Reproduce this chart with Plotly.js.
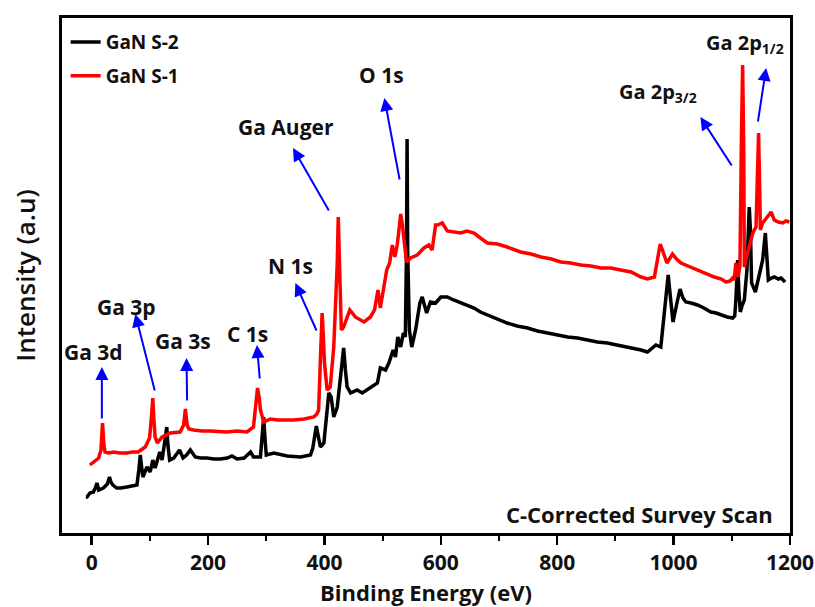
<!DOCTYPE html>
<html>
<head>
<meta charset="utf-8">
<script src="https://cdn.plot.ly/plotly-3.0.1.min.js"></script>
<style>
  html, body { margin: 0; padding: 0; background: #fff; }
  #chart { width: 815px; height: 607px; }
</style>
</head>
<body>
<div id="chart"></div>
<script>
// XPS survey spectra of two GaN samples (binding energy in eV, intensity in a.u.)
const energyS1 = [-3, 3, 12, 16, 18.6, 21, 23, 29, 37.5, 48, 60, 70, 80, 92, 99.5, 103, 105, 107, 109, 113,
  121, 135, 152, 158, 161, 164, 167, 175, 190, 204, 220, 232, 250, 267, 278, 282, 285, 288, 290, 295.6,
  307, 320, 347, 365, 381.6, 387, 390, 393, 396, 398, 400, 404.6, 410, 416, 420, 422, 423.7, 426, 429, 433,
  443.6, 448, 453, 468, 479, 486, 492, 496, 502, 507, 512, 516.5, 521, 525, 528, 531, 534, 536.5, 541, 548,
  559.5, 571, 579.5, 585, 591, 594, 602.5, 611, 622, 634, 645, 657, 668, 680, 697, 714, 737, 755, 772, 790,
  806, 823, 840.5, 858, 875, 892, 909, 927, 944, 955, 967, 972, 977, 982, 988.5, 998, 1005, 1012.6, 1025, 1041,
  1055, 1070, 1082, 1090, 1097, 1101.5, 1104, 1107, 1111, 1114, 1116.5, 1118.6, 1120.5, 1121.5, 1127, 1136, 1141.6, 1144, 1146, 1148,
  1149, 1153, 1161.7, 1167.5, 1173, 1180, 1187.6, 1193, 1199];
const intensityS1 = [68, 71, 75, 83, 110, 88, 81, 80, 81, 80, 80, 81, 81, 86, 95, 118, 135, 113, 96, 90,
  96, 100, 101, 108, 124, 108, 104, 103, 102, 102, 101, 101, 102, 101, 106, 128, 145, 135, 123, 111,
  114, 113, 113, 114, 116, 119, 123, 173, 220, 198, 170, 143, 146, 186, 243, 270, 316, 270, 203, 206,
  223, 220, 216, 211, 216, 223, 243, 225, 246, 263, 270, 288, 276, 288, 303, 319, 308, 293, 271, 275,
  278, 285, 288, 283, 308, 308, 310, 302, 301, 300, 302, 300, 295, 290, 289, 286, 281, 279, 276, 274,
  271, 270, 268, 267, 265, 265, 263, 261, 256, 254, 256, 271, 289, 281, 270, 279, 274, 270, 267, 263,
  259, 256, 254, 251, 252, 255, 253, 270, 256, 268, 393, 468, 383, 266, 280, 300, 306, 353, 400, 343,
  303, 310, 316, 321, 313, 311, 310, 312, 311];

const energyS2 = [-10, -8, -3, 3, 7, 9, 12, 20, 27, 30.6, 33, 36.5, 43, 50, 60.5, 70, 77.8, 81, 83.5, 86,
  88, 95, 100.6, 105, 109, 117, 121, 126, 129, 131, 134, 141, 151, 157, 163, 169.5, 178, 187, 198, 210,
  221, 233, 241, 250, 262, 273, 278, 290, 293, 295.6, 298, 300, 313, 336, 359, 376, 380, 383, 386, 389,
  393, 399, 404, 407.5, 411.6, 416, 422, 427.6, 433, 436, 439, 445, 456, 465, 479, 491, 496, 505, 510.7, 518,
  522, 526, 531, 535.5, 539, 541, 542, 543, 546, 550, 556.6, 564, 568, 572, 575.6, 582, 591, 600, 605, 611,
  622, 634, 645, 657, 668, 680, 697, 714, 731, 749, 766, 783, 800, 818, 835, 852, 869, 886, 903, 921,
  935, 944, 955, 961, 969.6, 978, 984, 990.7, 995, 999, 1005, 1011, 1016, 1021, 1030, 1041, 1052, 1064, 1073, 1081,
  1092, 1101.5, 1105, 1107, 1110, 1112, 1114.6, 1118, 1121.5, 1126, 1130, 1132, 1134, 1140.5, 1145, 1149, 1153, 1157.6, 1160, 1162.8,
  1168, 1173, 1180, 1184.6, 1191.6];
const intensityS2 = [36, 36, 40, 41, 46, 50, 43, 45, 49, 56, 51, 48, 45, 45, 46, 47, 48, 63, 78, 65,
  56, 66, 61, 73, 65, 81, 73, 93, 106, 88, 73, 75, 83, 75, 78, 83, 76, 75, 75, 74,
  74, 75, 77, 74, 75, 81, 76, 76, 93, 116, 93, 78, 80, 77, 76, 78, 85, 96, 107, 98,
  86, 90, 123, 140, 136, 116, 126, 160, 185, 163, 146, 140, 143, 140, 145, 150, 165, 163, 170, 183,
  176, 196, 186, 200, 196, 283, 394, 283, 203, 186, 203, 230, 236, 226, 220, 231, 230, 236, 236, 236,
  233, 230, 228, 225, 221, 218, 214, 210, 207, 205, 202, 200, 198, 196, 195, 193, 191, 190, 188, 186,
  184, 183, 181, 184, 188, 186, 223, 258, 233, 211, 228, 244, 235, 231, 230, 228, 225, 221, 220, 218,
  216, 215, 217, 233, 273, 243, 221, 228, 233, 263, 326, 303, 250, 241, 253, 261, 273, 300, 278, 253,
  255, 256, 254, 255, 251];

// Peak labels: text position, arrow head and arrow tail (eV, a.u.)
const peakLabels = ['Ga 3d', 'Ga 3p', 'Ga 3s', 'C 1s', 'N 1s', 'Ga Auger', 'O 1s', 'Ga 2p<sub>3/2</sub>', 'Ga 2p<sub>1/2</sub>'];
const labelX = [3, 59, 157.5, 268, 341.5, 334.6, 498, 903, 1052];
const labelY = [181, 226, 192, 199, 267, 406, 458, 441, 490];
const labelAnchor = ['center', 'center', 'center', 'center', 'center', 'center', 'center', 'left', 'left'];
const headX = [17.5, 75, 163, 284, 350, 346, 503, 1046, 1159];
const headY = [166, 219, 175, 188, 250, 385, 435, 416, 465];
const tailX = [17.5, 109, 164, 289, 387.5, 409, 529.6, 1101.5, 1144.5];
const tailY = [113, 141, 131, 153, 201, 321, 352, 366, 410];

const tickValues = [0, 200, 400, 600, 800, 1000, 1200];

const FONT = '"Open Sans", "DejaVu Sans", sans-serif';

const traces = [
  {
    x: energyS2, y: intensityS2, name: 'GaN S-2', type: 'scatter', mode: 'lines',
    legendgroup: 's2', line: { color: '#000000', width: 3.5 }
  },
  {
    x: energyS1, y: intensityS1, name: 'GaN S-1', type: 'scatter', mode: 'lines',
    legendgroup: 's1', line: { color: '#ff0000', width: 3.5 }
  }
];

const annotations = [];
for (let i = 0; i < peakLabels.length; i++) {
  annotations.push({
    x: headX[i], y: headY[i], ax: tailX[i], ay: tailY[i],
    xref: 'x', yref: 'y', axref: 'x', ayref: 'y',
    text: '', showarrow: true, arrowhead: 2, arrowsize: 1.3, arrowwidth: 2,
    arrowcolor: '#0000ff', standoff: 0, startstandoff: 0
  });
  const big = i < 7;
  annotations.push({
    x: labelX[i], y: labelY[i], xref: 'x', yref: 'y',
    text: peakLabels[i], showarrow: false, xanchor: labelAnchor[i], yanchor: 'middle',
    font: { family: FONT, size: big ? 21 : 20, color: '#111', weight: 700 }
  });
}
annotations.push({
  x: 0.979, y: 0.037, xref: 'paper', yref: 'paper',
  text: 'C-Corrected Survey Scan', showarrow: false, xanchor: 'right', yanchor: 'middle',
  font: { family: FONT, size: 22, color: '#111', weight: 700 }
});

const layout = {
  width: 815, height: 607,
  margin: { l: 62, r: 25, t: 18, b: 74 },
  paper_bgcolor: '#ffffff', plot_bgcolor: '#ffffff',
  showlegend: true,
  legend: {
    x: 0.005, y: 0.99, xanchor: 'left', yanchor: 'top',
    bgcolor: 'rgba(0,0,0,0)', borderwidth: 0,
    font: { family: FONT, size: 19, color: '#111', weight: 700 },
    traceorder: 'grouped', tracegroupgap: 6
  },
  xaxis: {
    range: [-51, 1200], tickvals: tickValues,
    showline: true, linecolor: '#000', linewidth: 3, mirror: true,
    ticks: 'outside', ticklen: 9, tickwidth: 2.5, tickcolor: '#000',
    minor: { dtick: 100, ticks: 'outside', ticklen: 5, tickwidth: 2, tickcolor: '#000' },
    showgrid: false, zeroline: false,
    tickfont: { family: FONT, size: 21, color: '#111', weight: 700 },
    title: { text: 'Binding Energy (eV)', standoff: 12, font: { family: FONT, size: 22, color: '#111', weight: 700 } }
  },
  yaxis: {
    range: [0, 515],
    showline: true, linecolor: '#000', linewidth: 3, mirror: true,
    ticks: '', showticklabels: false, showgrid: false, zeroline: false,
    title: { text: 'Intensity (a.u)', standoff: 16, font: { family: FONT, size: 26, color: '#111', weight: 600 } }
  },
  annotations: annotations
};

Plotly.newPlot('chart', traces, layout, { displayModeBar: false, staticPlot: true });
</script>
</body>
</html>
